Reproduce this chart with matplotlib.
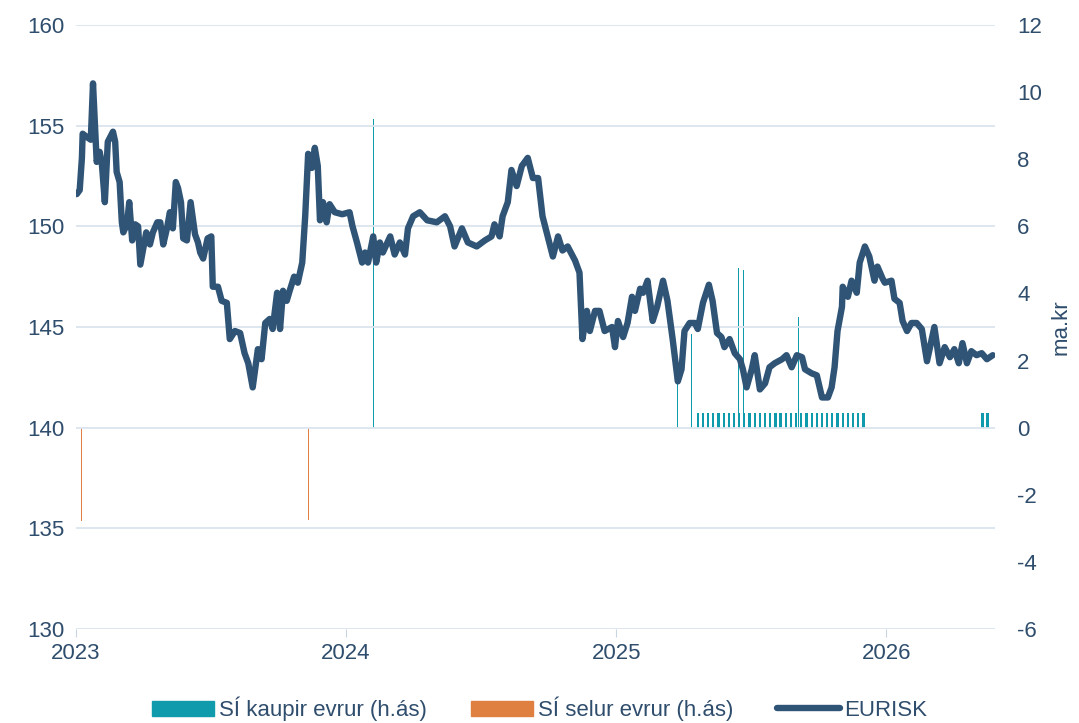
import matplotlib
matplotlib.use("Agg")
import matplotlib.pyplot as plt
import matplotlib.dates as mdates
import pandas as pd
from matplotlib.patches import Patch
from matplotlib.lines import Line2D

plt.rcParams['font.family'] = ['Liberation Sans', 'DejaVu Sans']
plt.rcParams['axes.unicode_minus'] = False

# EURISK gengi (vinstri ás)
eurisk_dates = [
    "2023-01-02", "2023-01-06", "2023-01-09", "2023-01-10", "2023-01-17", "2023-01-21",
    "2023-01-24", "2023-01-29", "2023-02-02", "2023-02-05", "2023-02-09", "2023-02-13",
    "2023-02-20", "2023-02-23", "2023-02-25", "2023-03-01", "2023-03-04", "2023-03-06",
    "2023-03-11", "2023-03-14", "2023-03-18", "2023-03-22", "2023-03-26", "2023-03-29",
    "2023-04-02", "2023-04-06", "2023-04-11", "2023-04-15", "2023-04-21", "2023-04-25",
    "2023-04-29", "2023-05-04", "2023-05-08", "2023-05-12", "2023-05-16", "2023-05-19",
    "2023-05-23", "2023-05-26", "2023-05-31", "2023-06-05", "2023-06-11", "2023-06-15",
    "2023-06-18", "2023-06-22", "2023-06-28", "2023-07-03", "2023-07-05", "2023-07-12",
    "2023-07-17", "2023-07-24", "2023-07-28", "2023-08-04", "2023-08-11", "2023-08-17",
    "2023-08-22", "2023-08-28", "2023-09-04", "2023-09-09", "2023-09-14", "2023-09-20",
    "2023-09-24", "2023-09-30", "2023-10-04", "2023-10-08", "2023-10-13", "2023-10-17",
    "2023-10-23", "2023-10-28", "2023-11-03", "2023-11-07", "2023-11-11", "2023-11-16",
    "2023-11-20", "2023-11-24", "2023-11-27", "2023-12-01", "2023-12-06", "2023-12-10",
    "2023-12-17", "2023-12-27", "2024-01-06", "2024-01-10", "2024-01-16", "2024-01-23",
    "2024-01-27", "2024-01-31", "2024-02-07", "2024-02-11", "2024-02-16", "2024-02-20",
    "2024-03-01", "2024-03-07", "2024-03-14", "2024-03-21", "2024-03-25", "2024-04-01",
    "2024-04-10", "2024-04-20", "2024-05-03", "2024-05-14", "2024-05-21", "2024-05-27",
    "2024-06-06", "2024-06-14", "2024-06-26", "2024-07-07", "2024-07-16", "2024-07-20",
    "2024-07-27", "2024-07-31", "2024-08-07", "2024-08-12", "2024-08-19", "2024-08-26",
    "2024-09-03", "2024-09-10", "2024-09-17", "2024-09-23", "2024-09-30", "2024-10-07",
    "2024-10-14", "2024-10-20", "2024-10-27", "2024-11-06", "2024-11-12", "2024-11-16",
    "2024-11-22", "2024-11-26", "2024-12-03", "2024-12-09", "2024-12-16", "2024-12-26",
    "2024-12-30", "2025-01-03", "2025-01-10", "2025-01-16", "2025-01-22", "2025-01-26",
    "2025-02-02", "2025-02-06", "2025-02-12", "2025-02-19", "2025-02-25", "2025-03-05",
    "2025-03-11", "2025-03-18", "2025-03-25", "2025-03-30", "2025-04-03", "2025-04-10",
    "2025-04-17", "2025-04-21", "2025-04-28", "2025-05-06", "2025-05-11", "2025-05-17",
    "2025-05-23", "2025-05-27", "2025-06-03", "2025-06-10", "2025-06-17", "2025-06-21",
    "2025-06-26", "2025-07-03", "2025-07-07", "2025-07-14", "2025-07-21", "2025-07-27",
    "2025-08-03", "2025-08-13", "2025-08-19", "2025-08-26", "2025-09-02", "2025-09-09",
    "2025-09-13", "2025-09-22", "2025-09-29", "2025-10-06", "2025-10-14", "2025-10-19",
    "2025-10-23", "2025-10-27", "2025-11-02", "2025-11-03", "2025-11-10", "2025-11-15",
    "2025-11-22", "2025-11-26", "2025-12-03", "2025-12-09", "2025-12-16", "2025-12-20",
    "2025-12-27", "2025-12-30", "2026-01-08", "2026-01-12", "2026-01-19", "2026-01-23",
    "2026-01-29", "2026-02-04", "2026-02-11", "2026-02-18", "2026-02-25", "2026-03-07",
    "2026-03-14", "2026-03-21", "2026-03-28", "2026-04-03", "2026-04-09", "2026-04-14",
    "2026-04-20", "2026-04-26", "2026-05-03", "2026-05-10", "2026-05-17", "2026-05-25",
]
eurisk = [
    151.6, 151.8, 153.4, 154.6, 154.4, 154.3,
    157.1, 153.2, 153.7, 153.1, 151.2, 154.2,
    154.7, 154.2, 152.7, 152.2, 150.2, 149.7,
    150.1, 151.2, 149.3, 150.1, 150.0, 148.1,
    148.9, 149.7, 149.1, 149.7, 150.2, 150.2,
    149.1, 149.9, 150.7, 149.9, 152.2, 151.9,
    151.2, 149.4, 149.3, 151.2, 149.6, 149.2,
    148.7, 148.4, 149.4, 149.5, 147.0, 147.0,
    146.3, 146.2, 144.4, 144.8, 144.7, 143.7,
    143.2, 142.0, 143.9, 143.4, 145.2, 145.4,
    144.9, 146.7, 144.9, 146.8, 146.3, 146.8,
    147.5, 147.2, 148.2, 150.5, 153.6, 152.9,
    153.9, 153.0, 150.3, 151.2, 150.2, 151.1,
    150.7, 150.6, 150.7, 150.0, 149.2, 148.2,
    148.7, 148.2, 149.5, 148.2, 149.2, 148.7,
    149.5, 148.6, 149.2, 148.6, 149.9, 150.5,
    150.7, 150.3, 150.2, 150.5, 150.0, 149.0,
    149.9, 149.2, 149.0, 149.3, 149.5, 150.1,
    149.5, 150.5, 151.2, 152.8, 152.0, 153.0,
    153.4, 152.4, 152.4, 150.5, 149.5, 148.5,
    149.5, 148.8, 149.0, 148.3, 147.7, 144.4,
    145.8, 144.8, 145.8, 145.8, 144.8, 145.0,
    144.0, 145.3, 144.5, 145.2, 146.5, 145.8,
    146.9, 146.7, 147.3, 145.3, 146.0, 147.3,
    146.3, 144.4, 142.3, 142.9, 144.8, 145.2,
    145.2, 144.9, 146.2, 147.1, 146.3, 144.7,
    144.5, 144.0, 144.4, 143.7, 143.4, 142.9,
    142.0, 142.9, 143.6, 141.9, 142.2, 143.0,
    143.2, 143.4, 143.6, 143.0, 143.6, 143.5,
    142.9, 142.7, 142.6, 141.5, 141.5, 142.0,
    143.0, 144.8, 146.0, 147.0, 146.5, 147.3,
    146.7, 148.2, 149.0, 148.5, 147.3, 148.0,
    147.4, 147.2, 147.3, 146.4, 146.2, 145.3,
    144.8, 145.2, 145.2, 144.9, 143.3, 145.0,
    143.2, 144.0, 143.5, 143.9, 143.2, 144.2,
    143.2, 143.8, 143.6, 143.7, 143.4, 143.6,
]

# Kaup SÍ á evrum, ma.kr (hægri ás)
buy_dates = [
    "2024-02-08", "2025-03-25", "2025-04-13", "2025-06-15", "2025-06-22", "2025-09-04",
    "2025-04-21", "2025-04-28", "2025-05-05", "2025-05-12", "2025-05-19", "2025-05-26",
    "2025-06-02", "2025-06-09", "2025-06-16", "2025-06-23", "2025-06-30", "2025-07-07",
    "2025-07-14", "2025-07-21", "2025-07-28", "2025-08-04", "2025-08-11", "2025-08-18",
    "2025-08-25", "2025-09-01", "2025-09-08", "2025-09-15", "2025-09-22", "2025-09-29",
    "2025-10-06", "2025-10-13", "2025-10-20", "2025-10-27", "2025-11-03", "2025-11-10",
    "2025-11-17", "2025-11-24", "2025-12-01", "2026-05-11", "2026-05-18",
]
buy_values = [
    9.2, 1.3, 2.8, 4.75, 4.7, 3.3,
    0.45, 0.45, 0.45, 0.45, 0.45, 0.45,
    0.45, 0.45, 0.45, 0.45, 0.45, 0.45,
    0.45, 0.45, 0.45, 0.45, 0.45, 0.45,
    0.45, 0.45, 0.45, 0.45, 0.45, 0.45,
    0.45, 0.45, 0.45, 0.45, 0.45, 0.45,
    0.45, 0.45, 0.45, 0.45, 0.45,
]

# Sala SÍ á evrum, ma.kr
sell_dates = ["2023-01-09", "2023-11-12"]
sell_values = [-2.77, -2.75]

line_color = '#2f5476'
teal = '#0f9bab'
orange = '#e08040'
text_color = '#2f4d6c'
grid_color = '#dbe5ef'

fig = plt.figure(figsize=(10.79, 7.23), dpi=100)
ax = fig.add_axes([76 / 1079, 1 - 629 / 723, (995 - 76) / 1079, (629 - 25) / 723])
ax2 = ax.twinx()

big = [v > 1 for v in buy_values]
bd = pd.to_datetime(buy_dates)
ax2.bar(bd[big], [v for v, b in zip(buy_values, big) if b], width=1.4, color=teal, linewidth=0)
ax2.bar(bd[[not b for b in big]], [v for v, b in zip(buy_values, big) if not b],
        width=3.0, color=teal, linewidth=0)
ax2.bar(pd.to_datetime(sell_dates), sell_values, width=1.4, color=orange, linewidth=0)

ax.plot(pd.to_datetime(eurisk_dates), eurisk, color=line_color, lw=4.6,
        solid_joinstyle='round', solid_capstyle='round', zorder=5)

ax.set_zorder(ax2.get_zorder() + 1)
ax.patch.set_visible(False)

ax.set_ylim(130, 160)
ax.set_yticks(range(130, 161, 5))
ax2.set_ylim(-6, 12)
ax2.set_yticks(range(-6, 13, 2))
ax.set_xlim(pd.Timestamp("2023-01-01"), pd.Timestamp("2026-05-28"))
ax.xaxis.set_major_locator(mdates.YearLocator())
ax.xaxis.set_major_formatter(mdates.DateFormatter('%Y'))

ax.grid(axis='y', color=grid_color, lw=1.3)
ax.set_axisbelow(True)
for a in (ax, ax2):
    for s in a.spines.values():
        s.set_visible(False)
ax.tick_params(axis='y', length=0, labelsize=16, labelcolor=text_color, pad=8)
ax2.tick_params(axis='y', length=0, labelsize=16, labelcolor=text_color, pad=16)
ax.tick_params(axis='x', length=6, color='#c9d5e2', labelsize=16, labelcolor=text_color, pad=4)
ax2.set_ylabel('ma.kr', fontsize=16, color=text_color, labelpad=6)

handles = [
    Patch(color=teal, label='SÍ kaupir evrur (h.ás)'),
    Patch(color=orange, label='SÍ selur evrur (h.ás)'),
    Line2D([], [], color=line_color, lw=4.6, solid_capstyle='round', label='EURISK'),
]
fig.legend(handles=handles, loc='lower center', bbox_to_anchor=(0.5, -0.025), ncol=3,
           frameon=False, fontsize=16, handlelength=2.8, handleheight=0.7,
           handletextpad=0.2, columnspacing=2.0, labelcolor=text_color)

fig.savefig('out.png', dpi=100)
